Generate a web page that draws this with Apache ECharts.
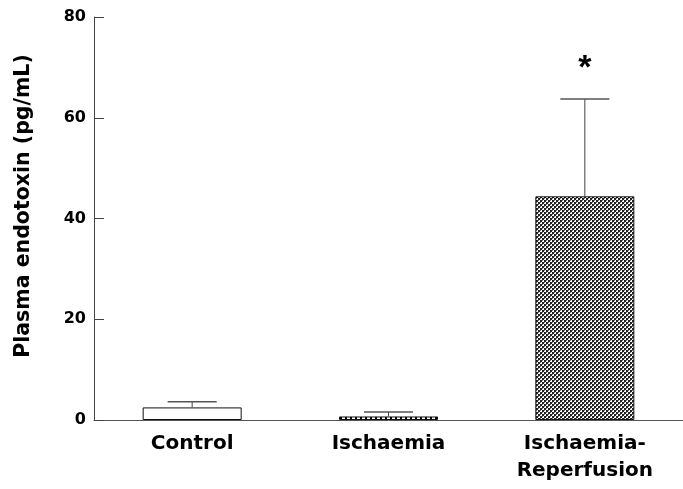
<!DOCTYPE html>
<html>
<head>
<meta charset="utf-8">
<script src="https://cdn.jsdelivr.net/npm/echarts@6/dist/echarts.min.js"></script>
<style>html,body{margin:0;padding:0;background:#fff}#c{width:683px;height:489px}</style>
</head>
<body>
<div id="c"></div>
<script>
const categories = ['Control', 'Ischaemia', 'Ischaemia-\nReperfusion'];
const means = [2.5, 0.7, 44.4];
const errorTops = [3.6, 1.6, 63.7];
const significance = ['', '', '*'];
const yTicks = [0, 20, 40, 60, 80];

const FONT = '"DejaVu Sans", Verdana, sans-serif';

function makePattern(kind) {
  const c = document.createElement('canvas');
  if (kind === 'stripes') {
    c.width = 5; c.height = 5;
    const g = c.getContext('2d');
    g.fillStyle = '#fff'; g.fillRect(0, 0, 5, 5);
    g.fillStyle = '#000'; g.fillRect(0, 0, 2, 5);
  } else {
    c.width = 4; c.height = 4;
    const g = c.getContext('2d');
    g.fillStyle = '#fff'; g.fillRect(0, 0, 4, 4);
    g.fillStyle = '#222';
    g.fillRect(0, 0, 2, 2); g.fillRect(2, 2, 2, 2);
    g.fillStyle = '#777';
    g.fillRect(2, 0, 1, 1); g.fillRect(0, 2, 1, 1);
  }
  return { image: c, repeat: 'repeat' };
}
const fills = ['#ffffff', makePattern('stripes'), makePattern('check')];

const chart = echarts.init(document.getElementById('c'), null, { renderer: 'canvas' });
chart.setOption({
  animation: false,
  backgroundColor: '#fff',
  grid: { left: 94, right: -5, top: 17, bottom: 69, containLabel: false },
  xAxis: {
    type: 'category',
    data: categories,
    axisLine: { lineStyle: { color: '#555', width: 1 } },
    axisTick: { show: false },
    axisLabel: {
      color: '#000', fontFamily: FONT,
      fontWeight: 'bold', fontSize: 20, margin: 10, lineHeight: 27
    }
  },
  yAxis: {
    type: 'value', min: 0, max: 80, interval: 20,
    name: 'Plasma endotoxin (pg/mL)',
    nameLocation: 'middle', nameGap: 60,
    nameTextStyle: { color: '#000', fontFamily: FONT, fontWeight: 'bold', fontSize: 20.5, padding: [0, 0, 0, 25] },
    axisLine: { show: true, lineStyle: { color: '#444', width: 1 } },
    axisTick: { show: true, inside: true, length: 10, lineStyle: { color: '#444' } },
    splitLine: { show: false },
    axisLabel: {
      color: '#000', fontFamily: FONT,
      fontWeight: 'bold', fontSize: 16, margin: 8,
      formatter: v => yTicks.includes(v) ? String(v) : ''
    }
  },
  series: [
    {
      type: 'bar',
      barWidth: 99,
      data: means.map((v, i) => ({
        value: v,
        itemStyle: { color: fills[i], borderColor: '#111', borderWidth: 1 }
      })),
      z: 2
    },
    {
      type: 'custom',
      z: 3,
      data: means.map((m, i) => [i, m, errorTops[i]]),
      renderItem: function (params, api) {
        const i = api.value(0);
        const base = api.coord([i, api.value(1)]);
        const top = api.coord([i, api.value(2)]);
        const half = 24.5;
        const children = [
          { type: 'line', shape: { x1: base[0], y1: base[1], x2: top[0], y2: top[1] }, style: { stroke: '#444', lineWidth: 1 } },
          { type: 'line', shape: { x1: top[0] - half, y1: top[1], x2: top[0] + half, y2: top[1] }, style: { stroke: '#555', lineWidth: 1.5 } }
        ];
        const sig = significance[params.dataIndex];
        if (sig) {
          children.push({
            type: 'text',
            style: {
              text: sig, x: top[0], y: top[1] - 30,
              fill: '#000', fontSize: 34, fontWeight: 'bold',
              fontFamily: 'Liberation Sans, Arial, sans-serif',
              align: 'center', verticalAlign: 'middle'
            }
          });
        }
        return { type: 'group', children: children };
      }
    }
  ]
});
</script>
</body>
</html>
